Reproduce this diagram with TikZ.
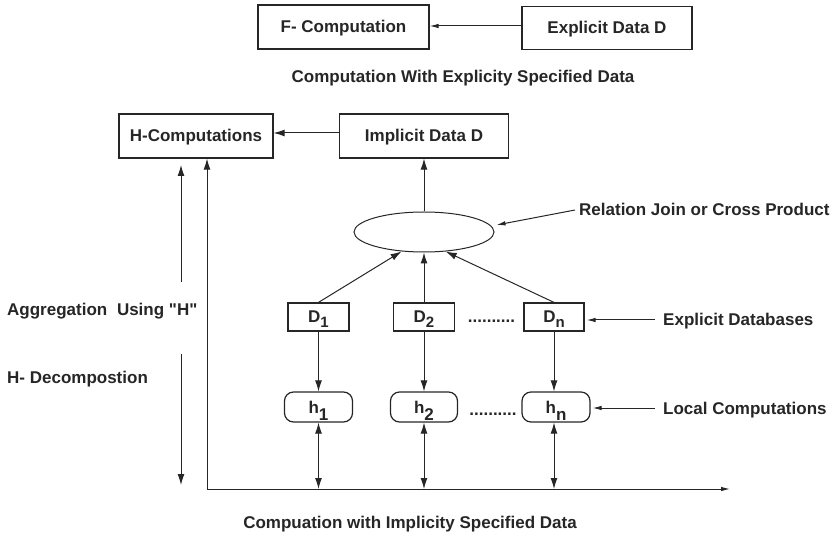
\documentclass[tikz,border=0pt]{standalone}
\usepackage{fontspec}
\setmainfont{Liberation Sans}[Ligatures=TeXOff]
\usetikzlibrary{shapes.geometric, arrows.meta, positioning}

\newcommand{\dsub}[1]{\raisebox{-4.5pt}{\fontsize{15}{15}\selectfont #1}}
\newcommand{\hsub}[1]{\raisebox{-7pt}{#1}}

\begin{document}
\begin{tikzpicture}[x=1pt, y=-1pt,
  font=\fontsize{17}{20}\selectfont\bfseries, color=black!85,
  box/.style={draw, line width=1.2pt, minimum height=44pt, inner sep=0pt,
              text height=12pt, text depth=0pt},
  dbox/.style={draw, line width=1.2pt, minimum width=61pt, minimum height=28pt,
               inner sep=0pt, text height=12pt, text depth=0pt},
  hbox/.style={draw, line width=1.2pt, rounded corners=9pt, minimum width=68pt,
               minimum height=30pt, inner sep=0pt, text height=12pt, text depth=0pt},
  lbl/.style={inner sep=0pt, text height=12pt, text depth=0pt},
  arr/.style={-{Latex[length=11pt, width=7pt]}, line width=1pt},
  darr/.style={{Latex[length=11pt, width=7pt]}-{Latex[length=11pt, width=7pt]}, line width=1pt},
  thin/.style={-{Latex[length=9pt, width=4.5pt]}, line width=1pt}]
\useasboundingbox (0,0) rectangle (835,534);

% explicitly specified data
\node[box, minimum width=171pt] (fcomp) at (343.5,27) {F- Computation};
\node[box, minimum width=170pt, minimum height=43pt] (expl) at (607,28) {Explicit Data D};
\node[lbl] (capexpl) at (463,77) {Computation With Explicity Specified Data};
\draw[thin] ([yshift=2pt]expl.west) -- ([yshift=2pt]expl.west -| fcomp.east);

% implicitly specified data
\node[box, minimum width=154pt] (hcomp) at (196,136) {H-Computations};
\node[box, minimum width=169pt] (impl) at (424,136) {Implicit Data D};
\node[draw, ellipse, line width=1pt, minimum width=140pt, minimum height=40pt,
      inner sep=0pt] (join) at (424,232) {};
\node[lbl, anchor=west] (joinlbl) at (579,210) {Relation Join or Cross Product};

\node[dbox] (d1) at (318.5,317) {D\dsub{1}};
\node[dbox] (d2) at (424,317) {D\dsub{2}};
\node[dbox, minimum width=60pt] (dn) at (554,317) {D\dsub{n}};
\node[lbl] (ddots) at (491.5,317) {..........};
\node[lbl, anchor=west] (dblbl) at (663,320) {Explicit Databases};

\node[hbox] (h1) at (318.5,407) {h\hsub{1}};
\node[hbox, minimum width=67pt] (h2) at (424,407) {h\hsub{2}};
\node[hbox] (hn) at (556,407) {h\hsub{n}};
\node[lbl] (hdots) at (493,409) {..........};
\node[lbl, anchor=west] (loclbl) at (663,408) {Local Computations};

\node[lbl, anchor=west] (agg) at (7,310) {Aggregation\hspace{5pt} Using "H"};
\node[lbl, anchor=west] (hdec) at (7,378) {H- Decompostion};
\node[lbl] (capimpl) at (410,522) {Compuation with Implicity Specified Data};

\coordinate (org) at (207,489);
\coordinate (xend) at (730,489);
\coordinate (aggfrom) at (181,282);
\coordinate (aggto) at (181,165);
\coordinate (decfrom) at (181,354);
\coordinate (decto) at (181,485);

% connectors
\draw[arr] ([yshift=3pt]impl.west) -- ([yshift=3pt]impl.west -| hcomp.east);
\draw[arr] (join.north) -- (impl.south);
\draw[thin] ([xshift=-4pt]joinlbl.west) -- ([shift={(2pt,7pt)}]join.east);
\draw[arr] (d1.north) -- (join.221);
\draw[arr] (d2.north) -- (join.south);
\draw[arr] (dn.north) -- (join.318);
\draw[thin] ([xshift=-8pt]dblbl.west) -- ([xshift=2pt]dblbl.west -| dn.east);
\draw[arr] (d1.south) -- (h1.north);
\draw[arr] (d2.south) -- (h2.north);
\draw[arr] (dn.south) -- (dn.south |- hn.north);
\draw[thin] ([xshift=-8pt]loclbl.west) -- ([xshift=2pt]loclbl.west -| hn.east);
\draw[darr] (h1.south) -- (h1.south |- org);
\draw[darr] (h2.south) -- (h2.south |- org);
\draw[darr] (dn.south |- hn.south) -- (dn.south |- org);

% axes
\draw[arr] (org) -- (org |- hcomp.south);
\draw[thin] (org) -- (xend);
\draw[arr] (aggfrom) -- (aggto);
\draw[arr] (decfrom) -- (decto);
\end{tikzpicture}
\end{document}
